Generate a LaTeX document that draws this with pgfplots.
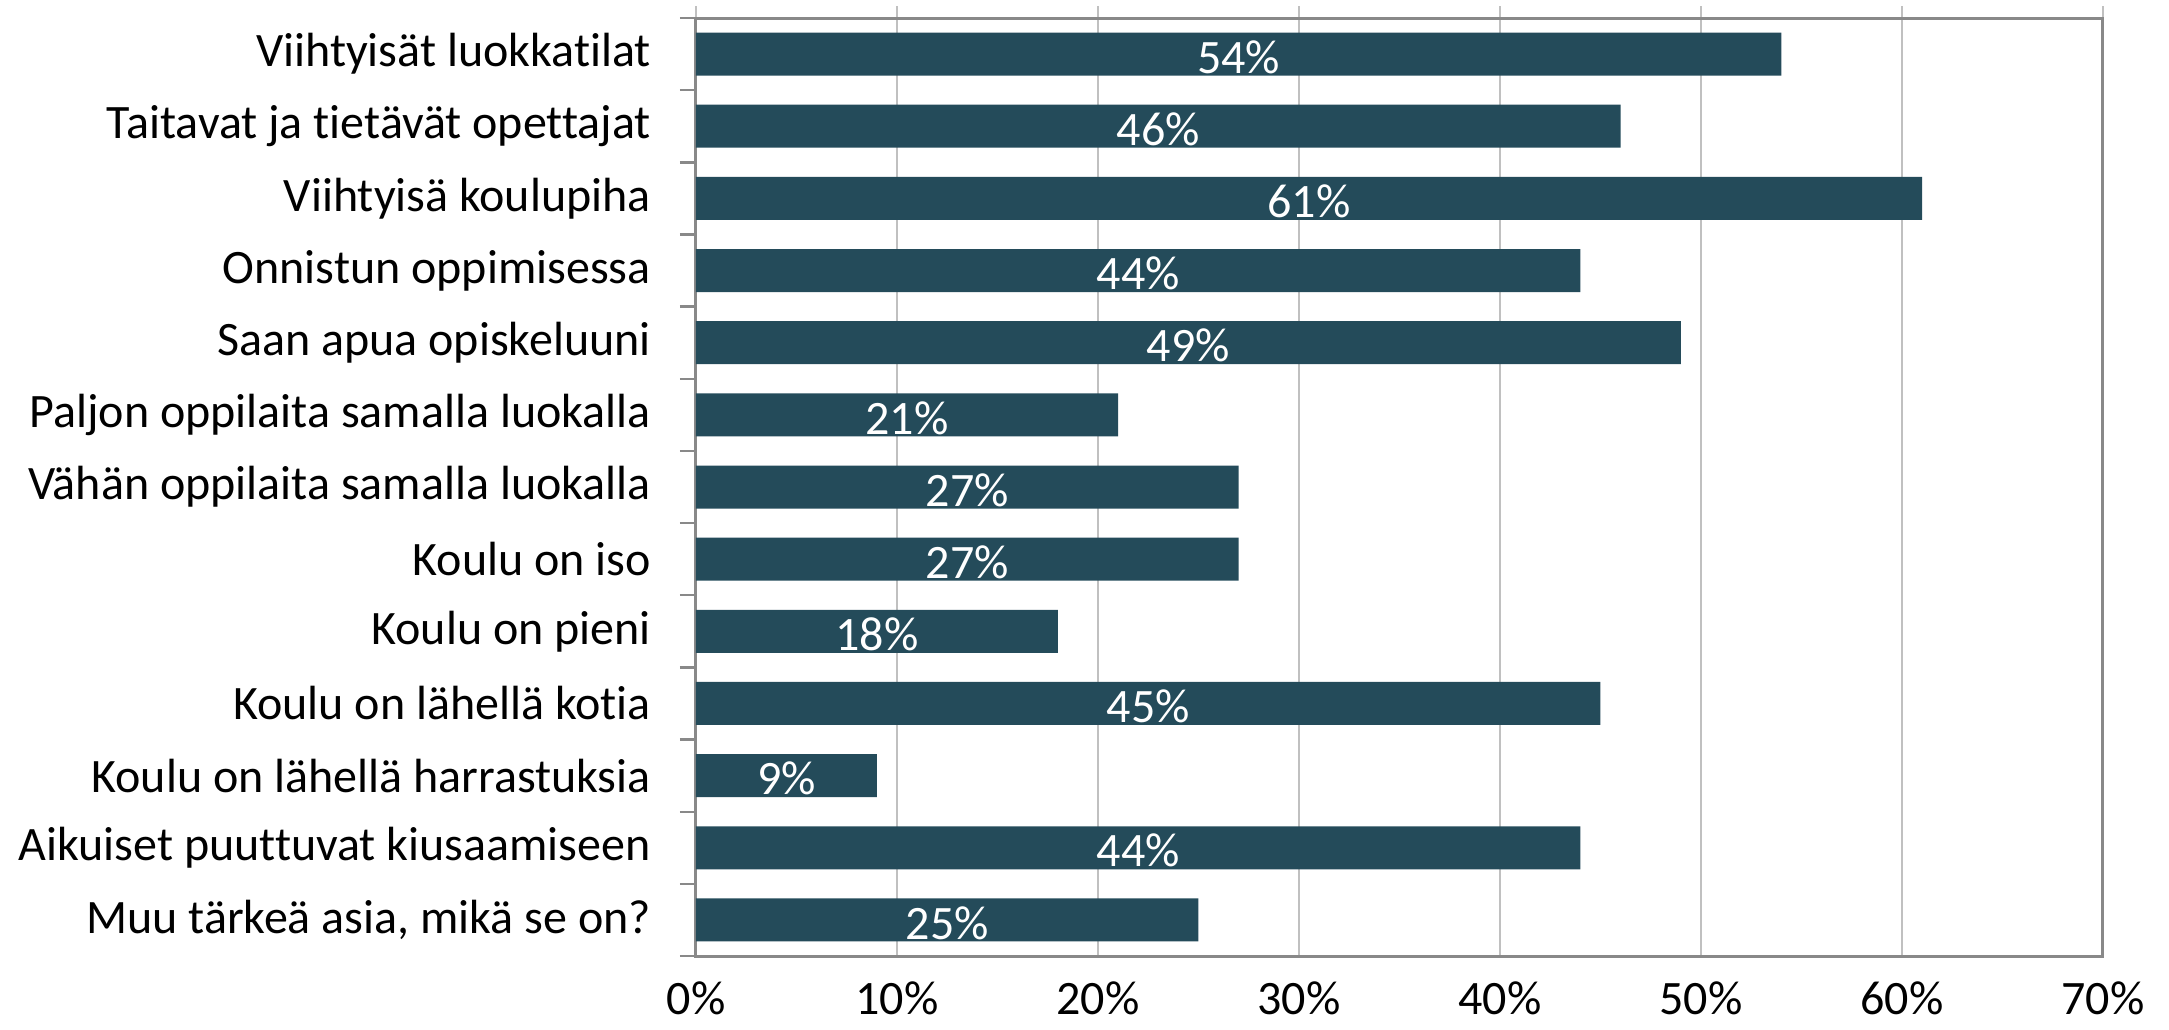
\documentclass[border=0pt]{standalone}
\usepackage{fontspec}
\setmainfont{Carlito}[Ligatures=NoCommon]
\usepackage{pgfplots}
\pgfplotsset{compat=1.18}
\usepackage{pgfplotstable}
\definecolor{barc}{HTML}{244B5A}
\definecolor{framec}{HTML}{898989}
\definecolor{gridc}{HTML}{C0C0C0}
\pgfplotstableread{
y v
0 54
1 46
2 61
3 44
4 49
5 21
6 27
7 27
8 18
9 45
10 9
11 44
12 25
}\data
\begin{document}
\begin{tikzpicture}
\begin{axis}[
  name=ax,
  scale only axis,
  width=351.75pt, height=234.5pt,
  xbar, bar width=10.75pt,
  xmin=0, xmax=70,
  ymin=-0.5, ymax=12.5,
  y dir=reverse,
  xtick={0,10,...,70},
  xticklabels={0\%,10\%,20\%,30\%,40\%,50\%,60\%,70\%},
  xtick pos=upper, xticklabel pos=lower,
  xticklabel style={anchor=base, yshift=-11.6pt},
  ytick={0,...,12},
  yticklabels={Viihtyisät luokkatilat,Taitavat ja tietävät opettajat,Viihtyisä koulupiha,Onnistun oppimisessa,Saan apua opiskeluuni,Paljon oppilaita samalla luokalla,Vähän oppilaita samalla luokalla,Koulu on iso,Koulu on pieni,Koulu on lähellä kotia,Koulu on lähellä harrastuksia,Aikuiset puuttuvat kiusaamiseen,{Muu tärkeä asia, mikä se on?}},
  major y tick style={draw=none},
  minor ytick={-0.5,0.5,...,12.5},
  minor y tick style={draw=framec, line width=0.6pt},
  ytick pos=left,
  tick align=outside,
  major tick length=3pt,
  minor tick length=4pt,
  major x tick style={draw=gridc, line width=0.5pt},
  yticklabel style={xshift=-4.75pt},
  xmajorgrids, grid style={draw=gridc, line width=0.5pt},
  axis line style={draw=framec, line width=0.75pt},
  tick label style={font=\fontsize{12}{14}\selectfont},
  /pgf/number format/assume math mode=true,
]
\addplot[fill=barc, draw=none] table[x=v, y=y] {\data};
\addplot[only marks, mark=none, point meta=explicit,
  nodes near coords={\pgfmathprintnumber{\pgfplotspointmeta}\%},
  nodes near coords style={text=white, anchor=center, font=\fontsize{12}{14}\selectfont, yshift=-0.75pt},
  /pgf/number format/assume math mode=true]
  table[x expr=\thisrow{v}/2, y=y, meta=v] {\data};
\end{axis}
\pgfresetboundingbox
\path[use as bounding box] ([shift={(-174pt,-18.25pt)}]ax.south west) rectangle ([shift={(16.5pt,4.5pt)}]ax.north east);
\end{tikzpicture}
\end{document}
